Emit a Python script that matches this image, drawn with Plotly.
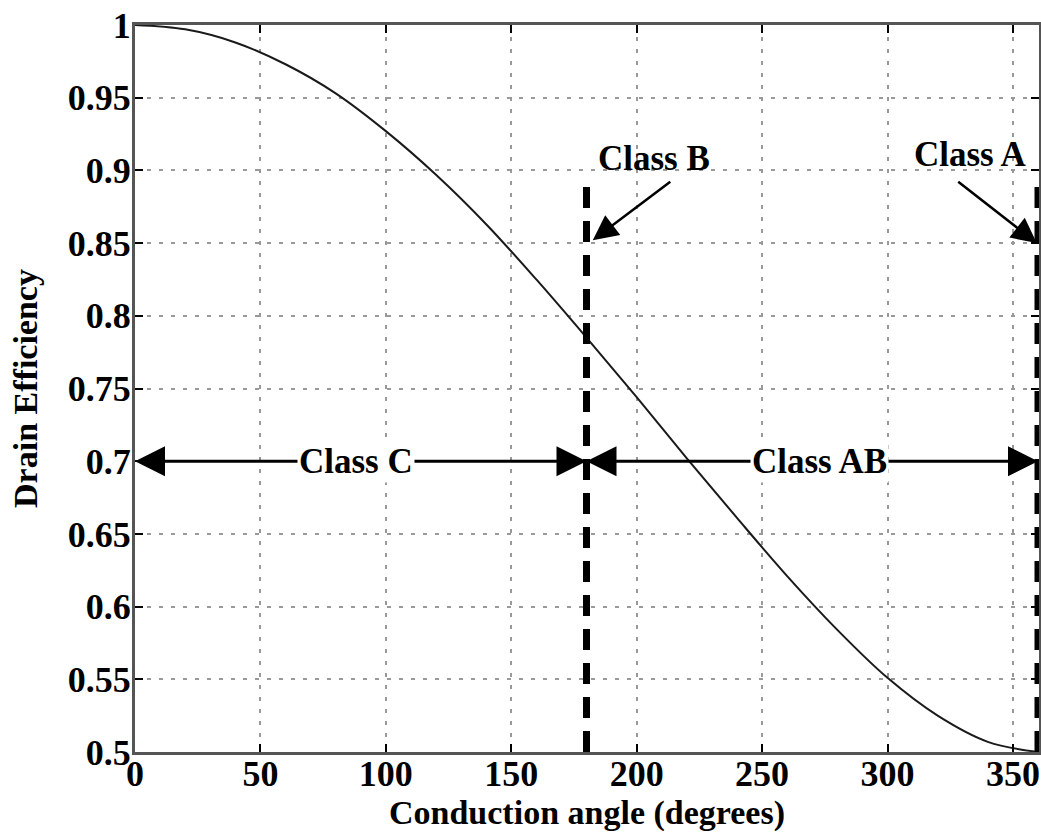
import plotly.graph_objects as go

# Curve values
angle_deg = [0, 20, 40, 60, 80, 100, 120, 140, 160, 180, 200, 220, 240, 260, 280, 300, 320, 340, 360]
efficiency = [1.0, 0.997, 0.988, 0.973, 0.953, 0.927, 0.897, 0.863, 0.825, 0.785, 0.744, 0.702,
              0.661, 0.621, 0.584, 0.551, 0.525, 0.507, 0.5]

# Class boundaries
class_b_x = [180, 180]
class_a_x = [360, 360]
boundary_y = [0.5, 0.89]

x_ticks = [0, 50, 100, 150, 200, 250, 300, 350]
y_ticks = [0.5, 0.55, 0.6, 0.65, 0.7, 0.75, 0.8, 0.85, 0.9, 0.95, 1.0]
y_tick_text = ["0.5", "0.55", "0.6", "0.65", "0.7", "0.75", "0.8", "0.85", "0.9", "0.95", "1"]

FONT = "Liberation Serif"

fig = go.Figure()
fig.add_trace(go.Scatter(x=angle_deg, y=efficiency, mode="lines",
                         line=dict(color="#1a1a1a", width=2, shape="spline"),
                         showlegend=False, hoverinfo="skip"))
for xs in (class_b_x, class_a_x):
    fig.add_trace(go.Scatter(x=xs, y=boundary_y, mode="lines",
                             line=dict(color="black", width=7, dash="21px,13px"),
                             showlegend=False, hoverinfo="skip"))

tfont = dict(family=FONT, size=35, color="black", weight="bold")
ann = []
# Class C double arrow
for head, tail in ((0, 90), (180, 90)):
    ann.append(dict(x=head, y=0.7, ax=tail, ay=0.7, xref="x", yref="y", axref="x", ayref="y",
                    text="", showarrow=True, arrowhead=2, arrowsize=2, arrowwidth=3,
                    arrowcolor="black"))
# Class AB double arrow
for head, tail in ((180, 273), (360, 273)):
    ann.append(dict(x=head, y=0.7, ax=tail, ay=0.7, xref="x", yref="y", axref="x", ayref="y",
                    text="", showarrow=True, arrowhead=2, arrowsize=2, arrowwidth=3,
                    arrowcolor="black"))
ann.append(dict(x=88, y=0.7, text="Class C", showarrow=False, font=tfont,
                bgcolor="white", xref="x", yref="y"))
ann.append(dict(x=273, y=0.7, text="Class AB", showarrow=False, font=tfont,
                bgcolor="white", xref="x", yref="y"))
# Class B
ann.append(dict(x=182.5, y=0.852, ax=214, ay=0.893, xref="x", yref="y", axref="x", ayref="y",
                text="", showarrow=True, arrowhead=2, arrowsize=2, arrowwidth=2.5, arrowcolor="black"))
ann.append(dict(x=207, y=0.908, text="Class B", showarrow=False, font=tfont, xref="x", yref="y"))
# Class A
ann.append(dict(x=359.5, y=0.85, ax=327.6, ay=0.893, xref="x", yref="y", axref="x", ayref="y",
                text="", showarrow=True, arrowhead=2, arrowsize=2, arrowwidth=2.5, arrowcolor="black"))
ann.append(dict(x=333, y=0.911, text="Class A", showarrow=False, font=tfont, xref="x", yref="y"))

axis_common = dict(showline=True, linecolor="#555", linewidth=3, mirror="ticks",
                   ticks="inside", ticklen=8, tickwidth=2, tickcolor="black",
                   showgrid=True, gridcolor="#999", gridwidth=1.5, griddash="4px,8px",
                   zeroline=False, automargin=False,
                   tickfont=dict(family=FONT, size=36, color="black", weight="bold"))

fig.update_layout(
    width=1041, height=838,
    margin=dict(l=135, r=2, t=25, b=86),
    paper_bgcolor="white", plot_bgcolor="white",
    annotations=ann,
    xaxis=dict(range=[0, 360.4], tickvals=x_ticks, ticklabelstandoff=-12, **axis_common,
               title=dict(text="Conduction angle (degrees)", standoff=2,
                          font=dict(family=FONT, size=34, color="black", weight="bold"))),
    yaxis=dict(range=[0.5, 1.0], tickvals=y_ticks, ticktext=y_tick_text, ticklabelstandoff=-6,
               **axis_common,
               title=dict(text="Drain Efficiency", standoff=20,
                          font=dict(family=FONT, size=34, color="black", weight="bold"))),
)

fig.write_html("out.html", config={"displayModeBar": False},
               post_script="document.body.style.margin='0';")
